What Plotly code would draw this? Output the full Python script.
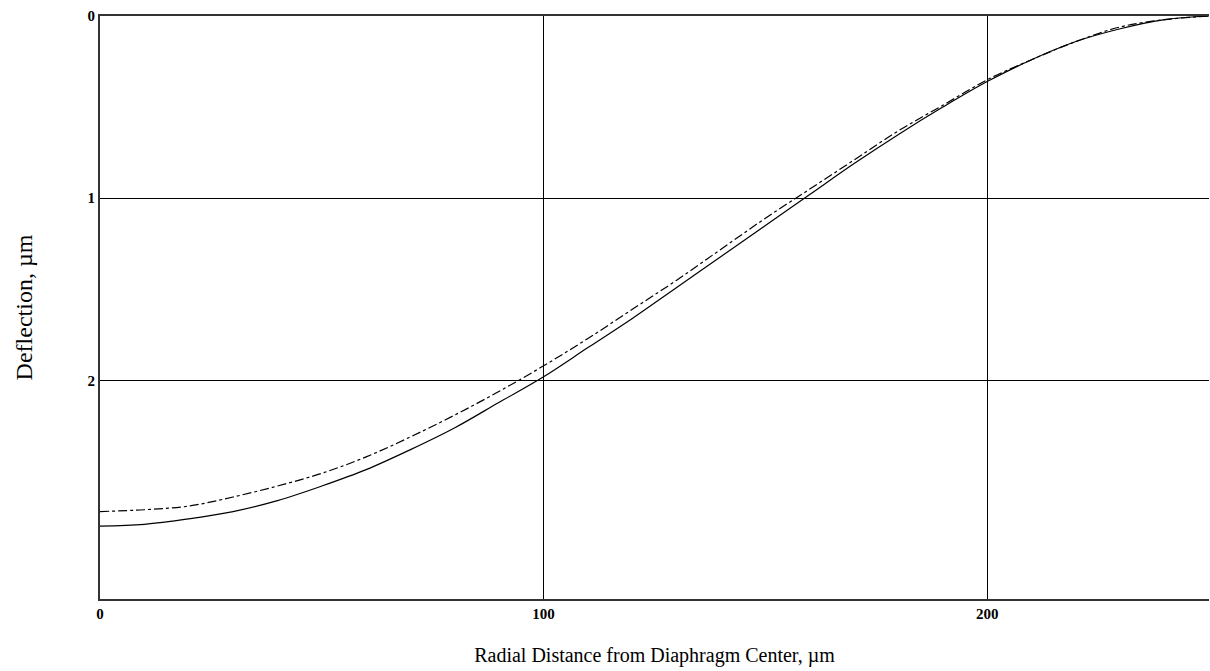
import plotly.graph_objects as go

radius = [0, 10, 20, 30, 40, 50, 60, 70, 80, 90, 100, 110, 120, 130, 140, 150,
          160, 170, 180, 190, 200, 210, 220, 230, 240, 250]
deflection_solid = [2.80, 2.79, 2.76, 2.72, 2.66, 2.58, 2.49, 2.38, 2.26, 2.12, 1.98,
                    1.82, 1.66, 1.49, 1.32, 1.15, 0.98, 0.81, 0.65, 0.50, 0.36, 0.24,
                    0.14, 0.07, 0.02, 0.00]
deflection_dashdot = [2.72, 2.71, 2.69, 2.64, 2.58, 2.51, 2.42, 2.31, 2.19, 2.06, 1.92,
                      1.77, 1.61, 1.45, 1.28, 1.11, 0.95, 0.79, 0.63, 0.49, 0.35, 0.24,
                      0.14, 0.06, 0.02, 0.00]
x_ticks = [0, 100, 200]
y_ticks = [0, 1, 2]

fig = go.Figure()
fig.add_trace(go.Scatter(x=radius, y=deflection_dashdot, mode="lines",
                         line=dict(color="black", width=1.2, dash="dashdot", shape="spline"),
                         showlegend=False))
fig.add_trace(go.Scatter(x=radius, y=deflection_solid, mode="lines",
                         line=dict(color="black", width=1.2, shape="spline"),
                         showlegend=False))

serif = "Liberation Serif, Times New Roman, serif"
fig.update_layout(
    width=1210, height=671,
    margin=dict(l=100, r=1, t=16, b=72),
    paper_bgcolor="white", plot_bgcolor="white",
    font=dict(family=serif, color="black"),
)
fig.update_xaxes(
    range=[0, 250], tickvals=x_ticks, ticktext=[str(v) for v in x_ticks],
    showgrid=True, gridcolor="black", gridwidth=1.3,
    showline=True, linecolor="#333", linewidth=2, mirror=True,
    zeroline=False, ticks="",
    tickfont=dict(family=serif, size=15, color="black", weight="bold"),
    title=dict(text="Radial Distance from Diaphragm Center, µm",
               font=dict(family=serif, size=20, color="black"), standoff=27),
)
fig.update_yaxes(
    range=[3.2, 0], tickvals=y_ticks, ticktext=[str(v) for v in y_ticks],
    showgrid=True, gridcolor="black", gridwidth=1.3,
    showline=True, linecolor="#333", linewidth=2, mirror=False,
    zeroline=False, ticks="",
    tickfont=dict(family=serif, size=15, color="black", weight="bold"),
    title=dict(text="Deflection, µm",
               font=dict(family=serif, size=24, color="black"), standoff=48),
)
fig.write_html("out.html",
               config={"displayModeBar": False},
               post_script="document.body.style.margin='0';document.body.style.overflow='hidden';")
